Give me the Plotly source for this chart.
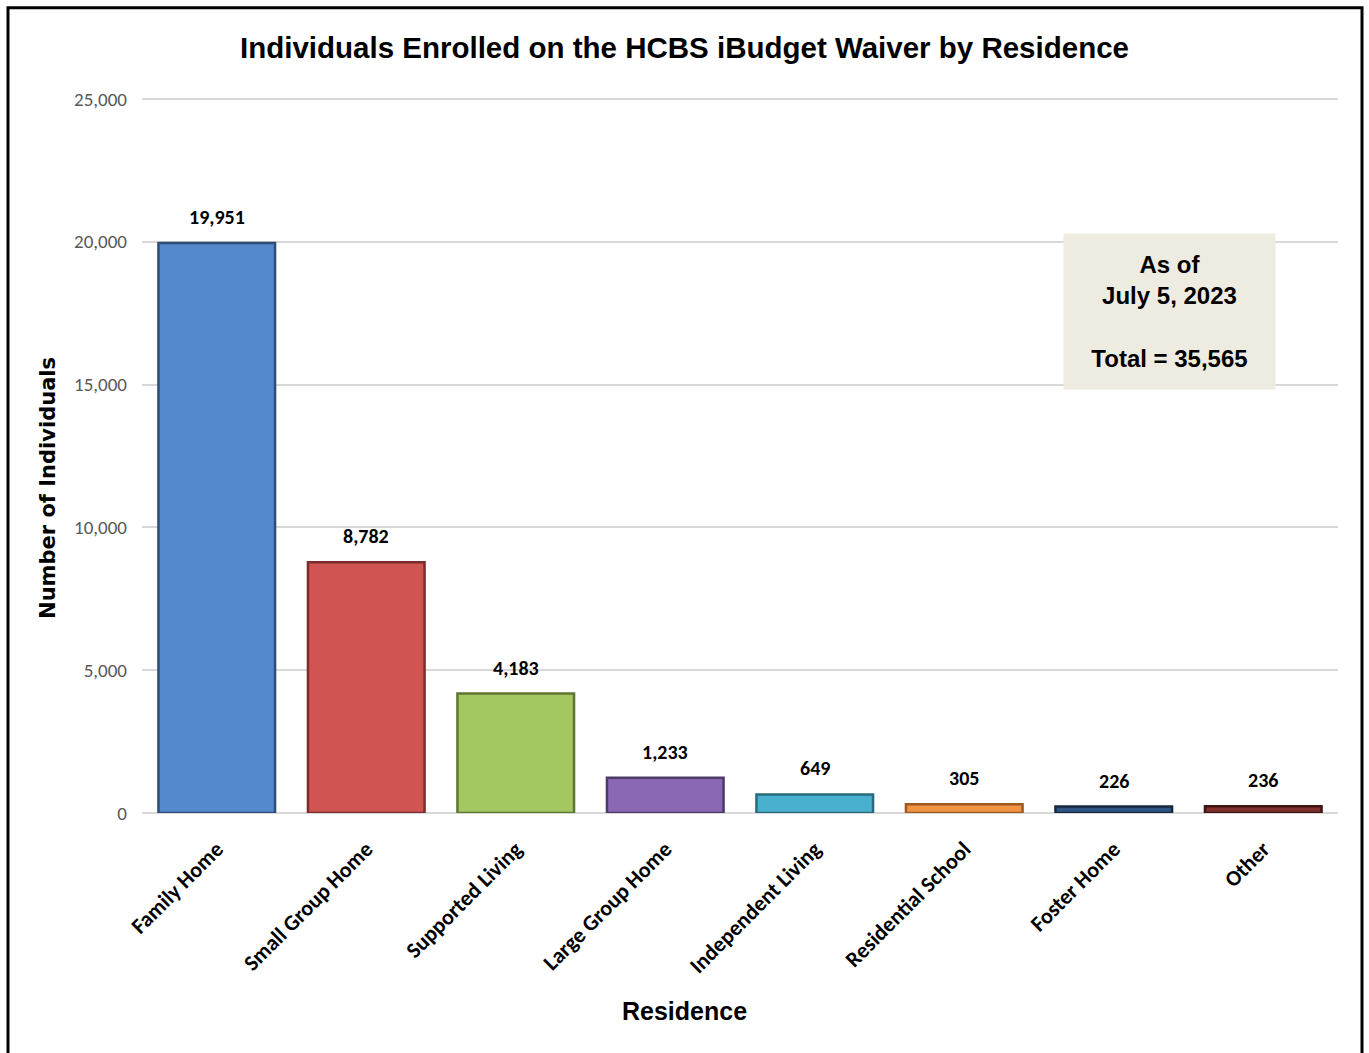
import plotly.graph_objects as go

categories = ["Family Home", "Small Group Home", "Supported Living", "Large Group Home",
              "Independent Living", "Residential School", "Foster Home", "Other"]
values = [19951, 8782, 4183, 1233, 649, 305, 226, 236]
colors = ["#5588CC", "#CF5452", "#A5C762", "#8A68B3", "#49B1CF", "#F39442", "#2E5484", "#7E2E2C"]
edge_colors = ["#2E4E78", "#7A2E2C", "#5E7632", "#4E3A68", "#2A6A7E", "#9A5A24", "#17293F", "#3E1514"]
y_ticks = [0, 5000, 10000, 15000, 20000, 25000]

W, H = 1369, 1053
L, R, B = 142, 31, 240
YMAX = 25100
ph = 714 * YMAX / 25000
T = H - B - ph
pw = W - L - R

def px_x(p):
    return (p - L) / pw

def px_y(p):
    return (H - B - p) / ph

narrow = "Liberation Sans Narrow, Arial Narrow, Liberation Sans, Arial"
calib = "Carlito, Calibri, Lato, sans-serif"

fig = go.Figure()
fig.add_trace(go.Bar(
    x=categories, y=values,
    marker=dict(color=colors, line=dict(color=edge_colors, width=2.5)),
    hoverinfo="skip",
))

for c, v in zip(categories, values):
    fig.add_annotation(x=c, y=v, yref="y", xref="x", text=f"<b>{v:,}</b>",
                       showarrow=False, yanchor="middle", yshift=26,
                       font=dict(family=calib, size=20, color="#000000"))

fig.update_layout(
    width=W, height=H,
    margin=dict(l=L, r=R, t=T, b=B),
    paper_bgcolor="white", plot_bgcolor="white",
    showlegend=False,
    bargap=0.22,
    title=dict(text="<b>Individuals Enrolled on the HCBS iBudget Waiver by Residence</b>",
               x=0.5, xanchor="center", y=1 - 48 / H, yanchor="middle",
               font=dict(family=narrow, size=29.5, color="#000000")),
    xaxis=dict(
        tickangle=-45,
        tickfont=dict(family=calib, size=22, color="#000000", weight="bold"),
        showgrid=False, showline=False, ticks="",
        ticklabelstandoff=18,
    ),
    yaxis=dict(
        range=[0, YMAX],
        tickvals=y_ticks,
        ticktext=[f"{v:,}" for v in y_ticks],
        tickfont=dict(family=calib, size=19, color="#595959"),
        ticklabelstandoff=14,
        showgrid=True, gridcolor="#D9D9D9", gridwidth=2,
        zeroline=True, zerolinecolor="#D9D9D9", zerolinewidth=2,
        ticks="", ticklen=0,
    ),
)

# axis titles
fig.add_annotation(xref="paper", yref="paper", x=px_x(48), y=px_y(488),
                   xanchor="center", yanchor="middle", textangle=-90, showarrow=False,
                   text="<b>Number of Individuals</b>",
                   font=dict(family="DejaVu Sans, Open Sans, sans-serif", size=21, color="#000000"))
fig.add_annotation(xref="paper", yref="paper", x=px_x(684), y=px_y(1011),
                   xanchor="center", yanchor="middle", showarrow=False,
                   text="<b>Residence</b>",
                   font=dict(family=narrow, size=25, color="#000000"))

# info box
fig.add_annotation(
    xref="paper", yref="paper",
    x=px_x(1169), y=px_y(312), xanchor="center", yanchor="middle",
    text="<b>As of<br>July 5, 2023<br><br>Total = 35,565</b>",
    showarrow=False, align="center",
    font=dict(family=narrow, size=24, color="#000000"),
    bgcolor="#EEECE1", width=199, height=143, borderpad=6,
)

# outer frame
fig.add_shape(type="rect", xref="paper", yref="paper",
              x0=px_x(8), x1=px_x(1362), y0=px_y(1070), y1=px_y(8),
              line=dict(color="#000000", width=3), layer="above")

fig.write_html("out.html")
